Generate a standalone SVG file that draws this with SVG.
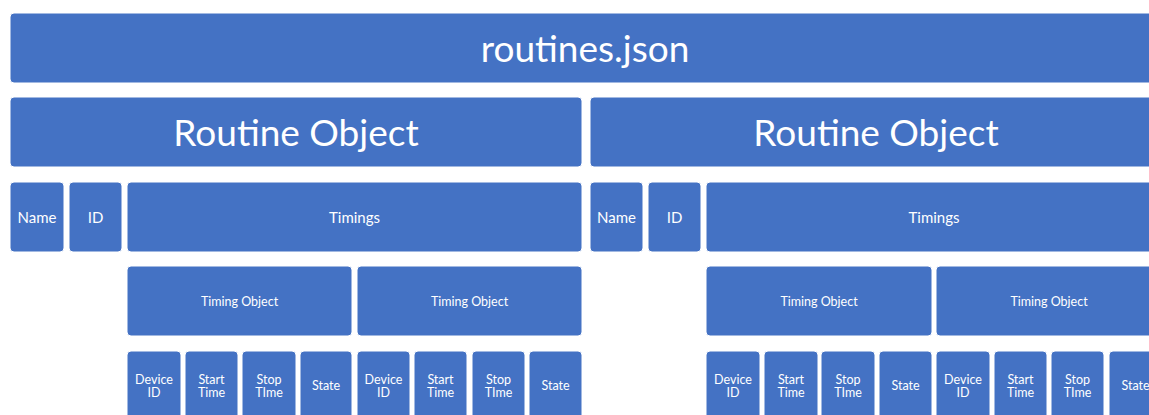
<svg xmlns="http://www.w3.org/2000/svg" width="1149" height="415" viewBox="0 0 1149 415">
<style>
rect{fill:#4472C4;stroke:#ffffff;stroke-width:1}
text{fill:#ffffff;font-family:Lato,"Open Sans","Liberation Sans",sans-serif;text-anchor:middle;dominant-baseline:central}
.xl{font-size:37px}
.m{font-size:15px}
.s{font-size:12.5px}
</style>
<rect width="1149" height="415" style="fill:#ffffff;stroke:none"/>
<g id="root"><rect x="10" y="13" width="1150" height="70" rx="4"/><text class="xl" x="585" y="47">routines.json</text></g>

<g id="routineL"><rect x="10" y="97" width="572" height="70" rx="4"/><text class="xl" x="296" y="131">Routine Object</text></g>
<g id="routineR"><rect x="590" y="97" width="572" height="70" rx="4"/><text class="xl" x="876" y="131">Routine Object</text></g>

<g id="nameL"><rect x="10" y="182" width="54" height="70" rx="4"/><text class="m" x="37" y="217">Name</text></g>
<g id="idL"><rect x="69" y="182" width="53" height="70" rx="4"/><text class="m" x="95.5" y="217">ID</text></g>
<g id="timingsL"><rect x="127" y="182" width="455" height="70" rx="4"/><text class="m" x="354.5" y="217">Timings</text></g>
<g id="nameR"><rect x="590" y="182" width="53" height="70" rx="4"/><text class="m" x="616.5" y="217">Name</text></g>
<g id="idR"><rect x="648" y="182" width="53" height="70" rx="4"/><text class="m" x="674.5" y="217">ID</text></g>
<g id="timingsR"><rect x="706" y="182" width="456" height="70" rx="4"/><text class="m" x="934" y="217">Timings</text></g>

<g id="tobjL1"><rect x="127" y="266" width="225" height="70" rx="4"/><text class="s" x="239.5" y="301">Timing Object</text></g>
<g id="tobjL2"><rect x="357" y="266" width="225" height="70" rx="4"/><text class="s" x="469.5" y="301">Timing Object</text></g>
<g id="tobjR1"><rect x="706" y="266" width="226" height="70" rx="4"/><text class="s" x="819" y="301">Timing Object</text></g>
<g id="tobjR2"><rect x="936" y="266" width="226" height="70" rx="4"/><text class="s" x="1049" y="301">Timing Object</text></g>

<g id="devL1"><rect x="127" y="351" width="54" height="70" rx="4"/><text class="s" x="154" y="379">Device</text><text class="s" x="154" y="392">ID</text></g>
<g id="startL1"><rect x="185" y="351" width="53" height="70" rx="4"/><text class="s" x="211.5" y="379">Start</text><text class="s" x="211.5" y="392">Time</text></g>
<g id="stopL1"><rect x="242" y="351" width="54" height="70" rx="4"/><text class="s" x="269" y="379">Stop</text><text class="s" x="269" y="392">TIme</text></g>
<g id="stateL1"><rect x="300" y="351" width="52" height="70" rx="4"/><text class="s" x="326" y="385.5">State</text></g>
<g id="devL2"><rect x="357" y="351" width="53" height="70" rx="4"/><text class="s" x="383.5" y="379">Device</text><text class="s" x="383.5" y="392">ID</text></g>
<g id="startL2"><rect x="414" y="351" width="53" height="70" rx="4"/><text class="s" x="440.5" y="379">Start</text><text class="s" x="440.5" y="392">Time</text></g>
<g id="stopL2"><rect x="472" y="351" width="53" height="70" rx="4"/><text class="s" x="498.5" y="379">Stop</text><text class="s" x="498.5" y="392">TIme</text></g>
<g id="stateL2"><rect x="529" y="351" width="53" height="70" rx="4"/><text class="s" x="555.5" y="385.5">State</text></g>

<g id="devR1"><rect x="706" y="351" width="54" height="70" rx="4"/><text class="s" x="733" y="379">Device</text><text class="s" x="733" y="392">ID</text></g>
<g id="startR1"><rect x="764" y="351" width="54" height="70" rx="4"/><text class="s" x="791" y="379">Start</text><text class="s" x="791" y="392">Time</text></g>
<g id="stopR1"><rect x="821" y="351" width="54" height="70" rx="4"/><text class="s" x="848" y="379">Stop</text><text class="s" x="848" y="392">TIme</text></g>
<g id="stateR1"><rect x="879" y="351" width="53" height="70" rx="4"/><text class="s" x="905.5" y="385.5">State</text></g>
<g id="devR2"><rect x="936" y="351" width="54" height="70" rx="4"/><text class="s" x="963" y="379">Device</text><text class="s" x="963" y="392">ID</text></g>
<g id="startR2"><rect x="994" y="351" width="53" height="70" rx="4"/><text class="s" x="1020.5" y="379">Start</text><text class="s" x="1020.5" y="392">Time</text></g>
<g id="stopR2"><rect x="1051" y="351" width="53" height="70" rx="4"/><text class="s" x="1077.5" y="379">Stop</text><text class="s" x="1077.5" y="392">TIme</text></g>
<g id="stateR2"><rect x="1109" y="351" width="53" height="70" rx="4"/><text class="s" x="1135.5" y="385.5">State</text></g>
<g id="connectors"/>
</svg>
